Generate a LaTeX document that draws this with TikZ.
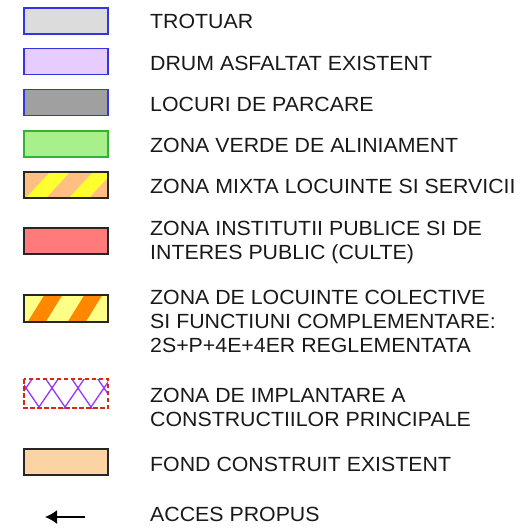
\documentclass[tikz,border=0pt]{standalone}
\usepackage{fontspec}
\setmainfont{Liberation Sans}
\newfontfamily\lblfont[FakeStretch=1.04]{Liberation Sans}
\usetikzlibrary{arrows.meta}
\definecolor{trotuarF}{HTML}{DCDCDC}
\definecolor{drumF}{HTML}{E6CCFF}
\definecolor{parcareF}{HTML}{A0A0A0}
\definecolor{blueB}{HTML}{3434E0}
\definecolor{verdeF}{HTML}{A8F08C}
\definecolor{verdeB}{HTML}{34B034}
\definecolor{peachF}{HTML}{FFBE82}
\definecolor{yellowS}{HTML}{FFFF30}
\definecolor{redF}{HTML}{FF7A7A}
\definecolor{lightY}{HTML}{FFFF88}
\definecolor{orangeS}{HTML}{FF8800}
\definecolor{violetL}{HTML}{9933FF}
\definecolor{redB}{HTML}{D42A14}
\definecolor{fondF}{HTML}{FCD4A4}
\begin{document}
\begin{tikzpicture}[x=1pt,y=-1pt,
  swatch/.style={draw, rectangle, minimum width=84pt, minimum height=26pt, inner sep=0pt, outer sep=0pt, line width=1.3pt},
  bluebox/.style={swatch, draw=blueB, line width=1.8pt},
  darkbox/.style={swatch, draw=black!85},
  darkline/.style={draw=black!85, line width=1.3pt},
  hatchline/.style={violetL, line width=1.3pt},
  lbl/.style={anchor=base west, inner sep=0pt, align=left, font=\lblfont\fontsize{20.5}{24}\selectfont, text=black!90}]
\useasboundingbox (0,0) rectangle (524,529);
% plain swatches
\node[bluebox, fill=trotuarF] (s1) at (66,21) {};
\node[bluebox, fill=drumF] (s2) at (66,61.5) {};
\node[bluebox, fill=parcareF] (s3) at (66,102.5) {};
\node[swatch, draw=verdeB, fill=verdeF] (s4) at (66,144) {};
\node[darkbox, fill=redF] (s6) at (66,241) {};
\node[darkbox, fill=fondF] (s9) at (66,462) {};
% striped swatch: zona mixta
\node[swatch, draw=none, fill=peachF] (s5) at (66,185) {};
\begin{scope}
  \clip (s5.north west) rectangle (s5.south east);
  \foreach \a in {25,68} {\fill[yellowS] (\a,199) -- (\a+20,199) -- (\a+46,171) -- (\a+26,171) -- cycle;}
\end{scope}
\draw[darkline] (s5.north west) rectangle (s5.south east);
% striped swatch: locuinte colective
\node[swatch, draw=none, fill=lightY, minimum height=27pt] (s7) at (66,308.5) {};
\begin{scope}
  \clip (s7.north west) rectangle (s7.south east);
  \foreach \a in {27,67} {\fill[orangeS] (\a,323) -- (\a+18,323) -- (\a+36,294) -- (\a+18,294) -- cycle;}
\end{scope}
\draw[darkline] (s7.north west) rectangle (s7.south east);
% cross-hatched swatch: zona de implantare
\node[swatch, draw=none, fill=white, minimum height=29pt] (s8) at (66,393.5) {};
\begin{scope}
  \clip (s8.north west) rectangle (s8.south east);
  \foreach \x in {0,26,...,130} {
    \draw[hatchline] (\x-12.3,370) -- (\x+20.5,418);
    \draw[hatchline] (\x+12.3,370) -- (\x-20.5,418);
  }
\end{scope}
\draw[draw=redB, line width=2.4pt, dash pattern=on 4.5pt off 2.5pt] (s8.north west) rectangle (s8.south east);
% arrow
\coordinate (arrS) at (85,517);
\coordinate (arrE) at (45,517);
\draw[line width=1.6pt, -{Latex[length=12pt,width=14pt]}] (arrS) -- (arrE);
% labels (base = baseline of the last line)
\node[lbl] (t1) at (150,29) {TROTUAR};
\node[lbl] (t2) at (150,70.5) {DRUM ASFALTAT EXISTENT};
\node[lbl] (t3) at (150,111.5) {LOCURI DE PARCARE};
\node[lbl] (t4) at (150,152.5) {ZONA VERDE DE ALINIAMENT};
\node[lbl] (t5) at (150,193.5) {ZONA MIXTA LOCUINTE SI SERVICII};
\node[lbl] (t6) at (150,259) {ZONA INSTITUTII PUBLICE SI DE\\INTERES PUBLIC (CULTE)};
\node[lbl] (t7) at (150,352) {ZONA DE LOCUINTE COLECTIVE\\SI FUNCTIUNI COMPLEMENTARE:\\2S+P+4E+4ER REGLEMENTATA};
\node[lbl] (t8) at (150,426) {ZONA DE IMPLANTARE A\\CONSTRUCTIILOR PRINCIPALE};
\node[lbl] (t9) at (150,471.5) {FOND CONSTRUIT EXISTENT};
\node[lbl] (t10) at (150,521.5) {ACCES PROPUS};
\end{tikzpicture}
\end{document}
